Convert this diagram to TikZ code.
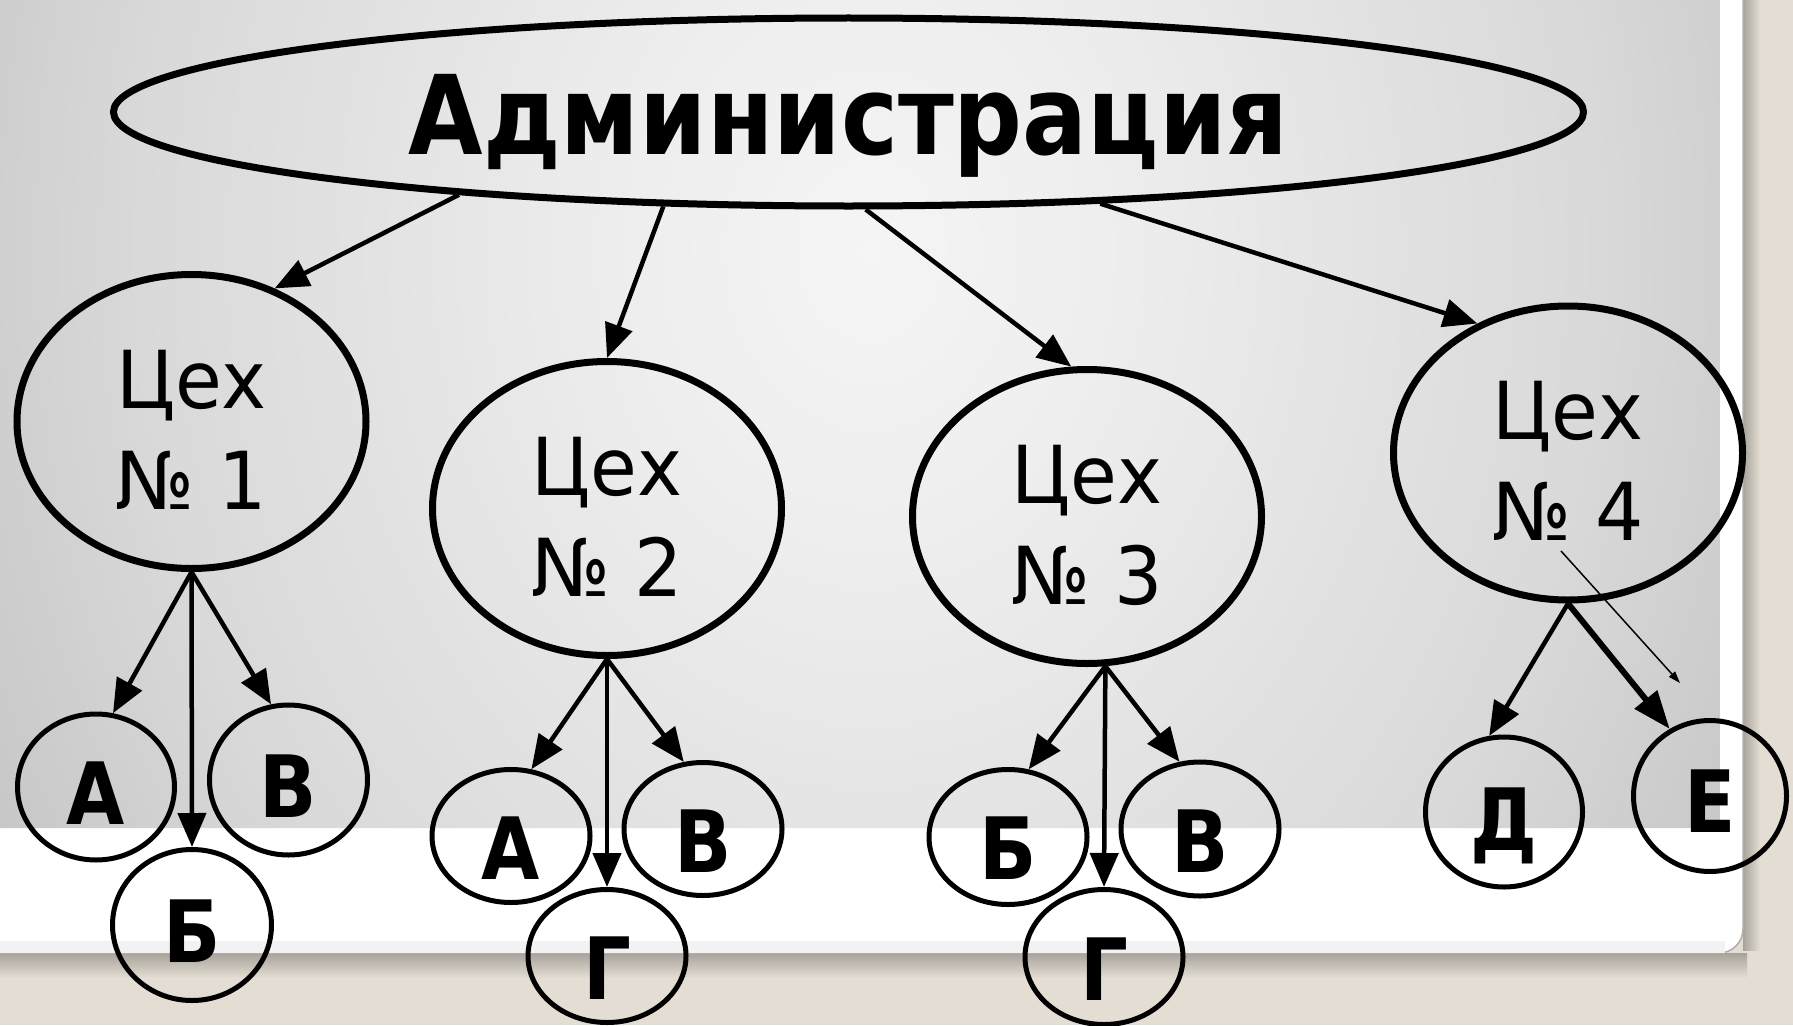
\documentclass[tikz,border=0pt]{standalone}
\usepackage{fontspec}
\usetikzlibrary{arrows.meta,shapes.geometric}
\newfontfamily\regf[FakeStretch=0.95]{DejaVu Sans}
\newfontfamily\boldf[FakeStretch=0.875]{DejaVu Sans}
\definecolor{beige}{RGB}{227,221,211}
\definecolor{shadowc}{RGB}{168,163,154}
\definecolor{edgec}{RGB}{178,174,166}
\pgfdeclareradialshading{slidebg}{\pgfpoint{0bp}{0bp}}{%
  color(0bp)=(white!96!black);
  color(7bp)=(white!93!black);
  color(20bp)=(white!85!black);
  color(25bp)=(white!80!black);
  color(30bp)=(white!75!black);
  color(34bp)=(white!71!black);
  color(38bp)=(white!64!black);
  color(50bp)=(white!60!black)}
\tikzset{
  shopbase/.style={ellipse, draw, line width=7pt, inner sep=0pt},
  admin/.style={shopbase, minimum width=1470pt, minimum height=188pt,
    font=\boldf\bfseries\fontsize{110}{120}\selectfont, text height=84pt, text depth=0pt},
  shopbox/.style={shopbase, minimum width=349pt, minimum height=294pt, align=center,
    font=\regf\fontsize{80}{101}\selectfont, text height=175pt, text depth=0pt},
  leaf/.style={ellipse, draw, line width=5pt, inner sep=0pt,
    font=\boldf\bfseries\fontsize{86}{90}\selectfont, text depth=0pt, text height=#1},
  arr/.style={line width=4.5pt, -{Triangle[length=34pt,width=28pt]}},
  arrthick/.style={line width=6pt, -{Triangle[length=38pt,width=28pt]}},
  thinarr/.style={line width=1.5pt, -{Triangle[length=12pt,width=8pt]}},
}
\begin{document}
\begin{tikzpicture}[x=1pt,y=-1pt]
\useasboundingbox (0,0) rectangle (1793,1025);
% background
\fill[beige] (0,0) rectangle (1793,1025);
\shade[top color=shadowc, bottom color=beige] (0,953) rectangle (1747,978);
\shade[left color=shadowc, right color=beige] (1743,0) rectangle (1760,950);
\fill[white, rounded corners=24pt] (-40,-40) rectangle (1743,953);
\draw[edgec, line width=1.5pt, rounded corners=24pt] (1743,-40) -- (1743,953) -- (-40,953);
\fill[white!95!black] (0,941) rectangle (1725,953);
\begin{scope}
  \clip[rounded corners=10pt] (-30,-30) rectangle (1720,828);
  \shade[shading=slidebg] (-49,-881) rectangle (1789,1381);
\end{scope}
% nodes
\node[admin] (adm) at (848.5,112) {Администрация};
\node[shopbox] (c1) at (191.5,421.5) {Цех\\№ 1};
\node[shopbox] (c2) at (607,508.5) {Цех\\№ 2};
\node[shopbox] (c3) at (1087,516.5) {Цех\\№ 3};
\node[shopbox] (c4) at (1568,453) {Цех\\№ 4};
\node[leaf=75pt, minimum width=157pt, minimum height=146pt] (a1) at (96,787) {А};
\node[leaf=75pt, minimum width=159pt, minimum height=151pt] (b1) at (192,925) {Б};
\node[leaf=75pt, minimum width=158pt, minimum height=150pt] (v1) at (288.5,780) {В};
\node[leaf=86pt, minimum width=158pt, minimum height=133pt] (a2) at (511,836) {А};
\node[leaf=86pt, minimum width=158pt, minimum height=133pt] (g2) at (607,956) {Г};
\node[leaf=86pt, minimum width=158pt, minimum height=133pt] (v2) at (703,829) {В};
\node[leaf=84pt, minimum width=158pt, minimum height=135pt] (b3) at (1008,837) {Б};
\node[leaf=86pt, minimum width=158pt, minimum height=135pt] (g3) at (1104,957) {Г};
\node[leaf=86pt, minimum width=158pt, minimum height=134pt] (v3) at (1200,829) {В};
\node[leaf=76pt, minimum width=157pt, minimum height=150pt] (d4) at (1504,812) {Д};
\node[leaf=73pt, minimum width=153pt, minimum height=151pt] (e4) at (1710,796) {Е};
% connectors
\draw[arr] (adm.192.2) -- (c1.58.2);
\draw[arr] (adm.207) -- (c2.90);
\draw[arr] (adm.-80) -- (c3.96.4);
\draw[arr] (adm.-20) -- (c4.125.8);
\draw[arr] (c1.south) -- (a1.77.3);
\draw[arr] (c1.south) -- (b1.north);
\draw[arr] (c1.south) -- (v1.103.2);
\draw[arr] (c2.south) -- (a2.73.9);
\draw[arr] (c2.south) -- (g2.north);
\draw[arr] (c2.south) -- (v2.106.5);
\draw[arr] (c3.-83.4) -- (b3.73.4);
\draw[arr] (c3.-83.4) -- (g3.north);
\draw[arr] (c3.-83.4) -- (v3.107.5);
\draw[arr] (c4.south) -- (d4.101.7);
\draw[arrthick] (c4.south) -- (e4.121.7);
\coordinate (t1) at (1561,551);
\coordinate (t2) at (1680,683);
\draw[thinarr] (t1) -- (t2);
\end{tikzpicture}
\end{document}
